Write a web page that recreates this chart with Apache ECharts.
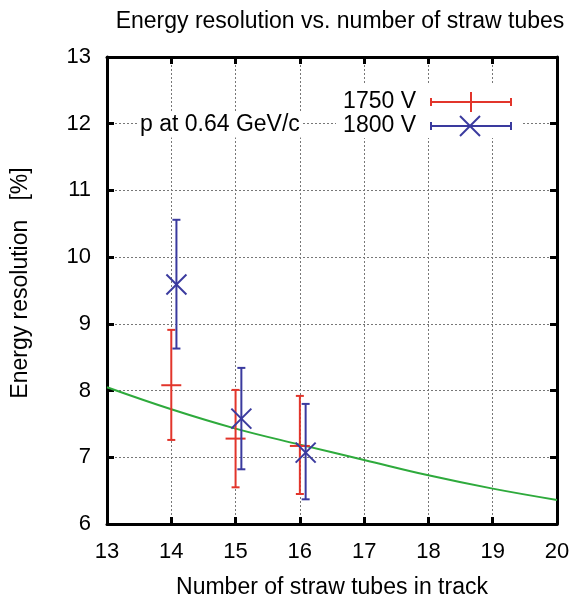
<!DOCTYPE html>
<html>
<head>
<meta charset="utf-8">
<script src="https://cdn.jsdelivr.net/npm/echarts@6/dist/echarts.min.js"></script>
<style>html,body{margin:0;padding:0;background:#fff;}#c{width:579px;height:604px;}</style>
</head>
<body>
<div id="c"></div>
<script>
const titleText = 'Energy resolution vs. number of straw tubes';
const xName = 'Number of straw tubes in track';
const yName = 'Energy resolution   [%]';
const annotation = 'p at 0.64 GeV/c';
const seriesNames = ['1750 V', '1800 V'];

const xMin = 13, xMax = 20, xStep = 1;
const yMin = 6, yMax = 13, yStep = 1;

// fitted curve
const curveX = [13, 14, 15, 16, 17, 18, 19, 20];
const curveY = [8.05, 7.72, 7.43, 7.19, 6.96, 6.73, 6.53, 6.36];

// 1750 V
const redX = [14.0, 15.0, 16.0];
const redY = [8.08, 7.28, 7.17];
const redLow = [7.26, 6.55, 6.45];
const redHigh = [8.91, 8.01, 7.92];

// 1800 V
const blueX = [14.08, 15.09, 16.09];
const blueY = [9.59, 7.58, 7.07];
const blueLow = [8.63, 6.82, 6.37];
const blueHigh = [10.56, 8.34, 7.80];

const RED = '#e2352b', BLUE = '#3a3a9e', GREEN = '#2eaa3c';
const FONT = '"Liberation Sans", Arial, sans-serif';

const chart = echarts.init(document.getElementById('c'), null, {renderer: 'canvas'});

function errData(xs, ys, lo, hi) {
  return xs.map((x, i) => [x, ys[i], lo[i], hi[i]]);
}

function makeRender(color, markerType) {
  return function (params, api) {
    const x = api.value(0), y = api.value(1), lo = api.value(2), hi = api.value(3);
    const c = api.coord([x, y]);
    const t = api.coord([x, hi]);
    const b = api.coord([x, lo]);
    const st = {stroke: color, lineWidth: 2};
    const cap = 4;
    const kids = [
      {type: 'line', shape: {x1: t[0], y1: t[1], x2: b[0], y2: b[1]}, style: st},
      {type: 'line', shape: {x1: t[0] - cap, y1: t[1], x2: t[0] + cap, y2: t[1]}, style: st},
      {type: 'line', shape: {x1: b[0] - cap, y1: b[1], x2: b[0] + cap, y2: b[1]}, style: st}
    ];
    if (markerType === 'plus') {
      kids.push({type: 'line', shape: {x1: c[0] - 10, y1: c[1], x2: c[0] + 10, y2: c[1]}, style: st});
    } else {
      kids.push({type: 'line', shape: {x1: c[0] - 10, y1: c[1] - 10, x2: c[0] + 10, y2: c[1] + 10}, style: st});
      kids.push({type: 'line', shape: {x1: c[0] - 10, y1: c[1] + 10, x2: c[0] + 10, y2: c[1] - 10}, style: st});
    }
    return {type: 'group', children: kids};
  };
}

const axisCommon = {
  axisLine: {show: true, onZero: false, lineStyle: {color: '#000', width: 3}},
  axisTick: {show: true, inside: true, length: 7, lineStyle: {color: '#000', width: 3}},
};

const L = 107, R = 557, T = 57, B = 525;

const legendGraphics = [
  {type: 'rect', z: 50, shape: {x: 336, y: 83, width: 187, height: 55}, style: {fill: '#fff'}},
  {type: 'text', z: 51, style: {text: seriesNames[0], x: 416, y: 102, align: 'right', verticalAlign: 'middle', font: '23px ' + FONT, fill: '#000'}},
  {type: 'text', z: 51, style: {text: seriesNames[1], x: 416, y: 126, align: 'right', verticalAlign: 'middle', font: '23px ' + FONT, fill: '#000'}},
  {type: 'line', z: 51, shape: {x1: 431, y1: 102, x2: 511, y2: 102}, style: {stroke: RED, lineWidth: 2}},
  {type: 'line', z: 51, shape: {x1: 431, y1: 98, x2: 431, y2: 106}, style: {stroke: RED, lineWidth: 2}},
  {type: 'line', z: 51, shape: {x1: 511, y1: 98, x2: 511, y2: 106}, style: {stroke: RED, lineWidth: 2}},
  {type: 'line', z: 51, shape: {x1: 471, y1: 92, x2: 471, y2: 112}, style: {stroke: RED, lineWidth: 2}},
  {type: 'line', z: 51, shape: {x1: 431, y1: 126, x2: 511, y2: 126}, style: {stroke: BLUE, lineWidth: 2}},
  {type: 'line', z: 51, shape: {x1: 431, y1: 122, x2: 431, y2: 130}, style: {stroke: BLUE, lineWidth: 2}},
  {type: 'line', z: 51, shape: {x1: 511, y1: 122, x2: 511, y2: 130}, style: {stroke: BLUE, lineWidth: 2}},
  {type: 'line', z: 51, shape: {x1: 460, y1: 116, x2: 480, y2: 136}, style: {stroke: BLUE, lineWidth: 2}},
  {type: 'line', z: 51, shape: {x1: 460, y1: 136, x2: 480, y2: 116}, style: {stroke: BLUE, lineWidth: 2}},
  {type: 'text', z: 51, style: {text: annotation, x: 138, y: 125, align: 'left', verticalAlign: 'middle', font: '23px ' + FONT, fill: '#000', backgroundColor: '#fff', padding: [1, 2]}},
  {type: 'text', z: 51, x: 21, y: 283, rotation: Math.PI / 2, style: {text: yName, x: 0, y: 0, align: 'center', verticalAlign: 'middle', font: '23px ' + FONT, fill: '#000'}}
];

const option = {
  backgroundColor: '#fff',
  animation: false,
  title: {
    text: titleText, left: 335, top: 5, textAlign: 'center',
    textStyle: {fontFamily: FONT, fontSize: 23, fontWeight: 'normal', color: '#000'}
  },
  grid: {left: L, right: 579 - R, top: T, bottom: 604 - B, containLabel: false},
  xAxis: [
    Object.assign({}, axisCommon, {
      type: 'value', position: 'bottom', min: xMin, max: xMax, interval: xStep,
      name: xName, nameLocation: 'middle', nameGap: 52,
      nameTextStyle: {fontFamily: FONT, fontSize: 23, color: '#000'},
      axisLabel: {fontFamily: FONT, fontSize: 22, color: '#000', margin: 17},
      splitLine: {show: true, lineStyle: {color: '#777', type: [2, 2], width: 1}}
    }),
    Object.assign({}, axisCommon, {
      type: 'value', position: 'top', min: xMin, max: xMax, interval: xStep,
      axisLabel: {show: false}, splitLine: {show: false}
    })
  ],
  yAxis: [
    Object.assign({}, axisCommon, {
      type: 'value', position: 'left', min: yMin, max: yMax, interval: yStep,
      axisLabel: {fontFamily: FONT, fontSize: 22, color: '#000', margin: 16},
      splitLine: {show: true, lineStyle: {color: '#777', type: [2, 2], width: 1}}
    }),
    Object.assign({}, axisCommon, {
      type: 'value', position: 'right', min: yMin, max: yMax, interval: yStep,
      axisLabel: {show: false}, splitLine: {show: false}
    })
  ],
  graphic: legendGraphics,
  series: [
    {
      type: 'line', name: 'fit', xAxisIndex: 0, yAxisIndex: 0,
      data: curveX.map((x, i) => [x, curveY[i]]),
      smooth: 0.4, showSymbol: false, symbol: 'none',
      lineStyle: {color: GREEN, width: 2}, z: 3
    },
    {
      type: 'custom', name: seriesNames[0], xAxisIndex: 0, yAxisIndex: 0,
      data: errData(redX, redY, redLow, redHigh),
      renderItem: makeRender(RED, 'plus'), z: 4,
      encode: {x: 0, y: [1, 2, 3]}
    },
    {
      type: 'custom', name: seriesNames[1], xAxisIndex: 0, yAxisIndex: 0,
      data: errData(blueX, blueY, blueLow, blueHigh),
      renderItem: makeRender(BLUE, 'x'), z: 5,
      encode: {x: 0, y: [1, 2, 3]}
    }
  ]
};
chart.setOption(option);
</script>
</body>
</html>
